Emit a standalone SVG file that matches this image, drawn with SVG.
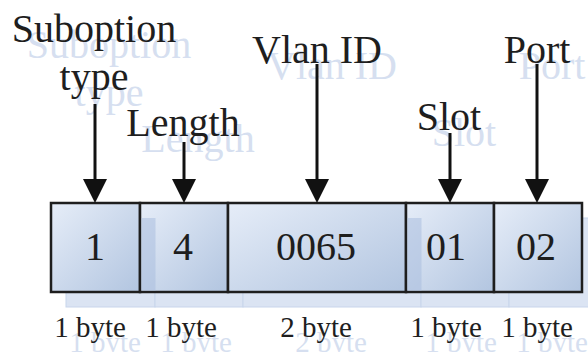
<svg xmlns="http://www.w3.org/2000/svg" width="588" height="352" viewBox="0 0 588 352">
  <style>
    .t { fill: #1e1e1e; text-anchor: middle; }
    .sh { fill: #d6dff0; text-anchor: middle; }
    .lbl { font-size: 40px; }
    .num { font-size: 40px; }
    .byte { font-size: 29px; }
    .box { fill: url(#g); stroke: #1e1e1e; stroke-width: 2.5; }
    .shbox { fill: #dbe4f3; stroke: #c8d5eb; stroke-width: 1; }
    .stripe { fill: #a9bedf; opacity: 0.55; }
    .arr { stroke: #111; stroke-width: 3; fill: none; marker-end: url(#ah); }
  </style>
  <defs>
    <linearGradient id="g" x1="0" y1="0" x2="1" y2="1">
      <stop offset="0" stop-color="#e6edf8"/>
      <stop offset="1" stop-color="#b2c5e0"/>
    </linearGradient>
    <marker id="ah" markerUnits="userSpaceOnUse" markerWidth="24" markerHeight="24" refX="16" refY="12" orient="auto" viewBox="0 0 24 24">
      <path d="M0,0 L24,12 L0,24 Z" fill="#111"/>
    </marker>
  </defs>

  <g id="shadows">
    <rect class="shbox" x="66" y="218" width="89" height="89"/>
    <rect class="shbox" x="155" y="218" width="88" height="89"/>
    <rect class="shbox" x="243" y="218" width="178" height="89"/>
    <rect class="shbox" x="421" y="218" width="88" height="89"/>
    <rect class="shbox" x="509" y="218" width="88" height="89"/>
    <text class="sh lbl" font-family="'Liberation Serif', serif" x="109" y="58">Suboption</text>
    <text class="sh lbl" font-family="'Liberation Serif', serif" x="109" y="106">type</text>
    <text class="sh lbl" font-family="'Liberation Serif', serif" x="198" y="152">Length</text>
    <text class="sh lbl" font-family="'Liberation Serif', serif" x="332" y="79">Vlan ID</text>
    <text class="sh lbl" font-family="'Liberation Serif', serif" x="464" y="146">Slot</text>
    <text class="sh lbl" font-family="'Liberation Serif', serif" x="552" y="79">Port</text>
    <text class="sh byte" font-family="'Liberation Serif', serif" x="105" y="352">1 byte</text>
    <text class="sh byte" font-family="'Liberation Serif', serif" x="196" y="352">1 byte</text>
    <text class="sh byte" font-family="'Liberation Serif', serif" x="331" y="352">2 byte</text>
    <text class="sh byte" font-family="'Liberation Serif', serif" x="461" y="352">1 byte</text>
    <text class="sh byte" font-family="'Liberation Serif', serif" x="552" y="352">1 byte</text>
  </g>

  <g id="field-type">
    <rect class="box" x="51" y="203" width="89" height="89"/>
    <text class="t num" font-family="'Liberation Serif', serif" x="95" y="260">1</text>
    <text class="t byte" font-family="'Liberation Serif', serif" x="90" y="337">1 byte</text>
  </g>
  <g id="field-length">
    <rect class="box" x="140" y="203" width="88" height="89"/>
    <rect class="stripe" x="141.5" y="218" width="14" height="72.5"/>
    <text class="t num" font-family="'Liberation Serif', serif" x="183" y="260">4</text>
    <text class="t byte" font-family="'Liberation Serif', serif" x="181" y="337">1 byte</text>
  </g>
  <g id="field-vlan">
    <rect class="box" x="228" y="203" width="178" height="89"/>
    <text class="t num" font-family="'Liberation Serif', serif" x="316" y="260">0065</text>
    <text class="t byte" font-family="'Liberation Serif', serif" x="316" y="337">2 byte</text>
  </g>
  <g id="field-slot">
    <rect class="box" x="406" y="203" width="88" height="89"/>
    <rect class="stripe" x="407.5" y="218" width="14" height="72.5"/>
    <text class="t num" font-family="'Liberation Serif', serif" x="446" y="260">01</text>
    <text class="t byte" font-family="'Liberation Serif', serif" x="446" y="337">1 byte</text>
  </g>
  <g id="field-port">
    <rect class="box" x="494" y="203" width="88" height="89"/>
    <text class="t num" font-family="'Liberation Serif', serif" x="536" y="260">02</text>
    <text class="t byte" font-family="'Liberation Serif', serif" x="537" y="337">1 byte</text>
  </g>

  <g id="label-suboption">
    <text class="t lbl" font-family="'Liberation Serif', serif" x="94" y="42">Suboption</text>
    <text class="t lbl" font-family="'Liberation Serif', serif" x="94" y="90">type</text>
  </g>
  <g id="label-length">
    <text class="t lbl" font-family="'Liberation Serif', serif" x="183" y="136">Length</text>
  </g>
  <g id="label-vlan">
    <text class="t lbl" font-family="'Liberation Serif', serif" x="317" y="63">Vlan ID</text>
  </g>
  <g id="label-slot">
    <text class="t lbl" font-family="'Liberation Serif', serif" x="449" y="130">Slot</text>
  </g>
  <g id="label-port">
    <text class="t lbl" font-family="'Liberation Serif', serif" x="537" y="63">Port</text>
  </g>

  <g id="connectors">
    <line class="arr" x1="95" y1="104" x2="95" y2="195"/>
    <line class="arr" x1="184" y1="142" x2="184" y2="195"/>
    <line class="arr" x1="317" y1="64" x2="317" y2="195"/>
    <line class="arr" x1="450" y1="133" x2="450" y2="195"/>
    <line class="arr" x1="537" y1="64" x2="537" y2="195"/>
  </g>
</svg>
